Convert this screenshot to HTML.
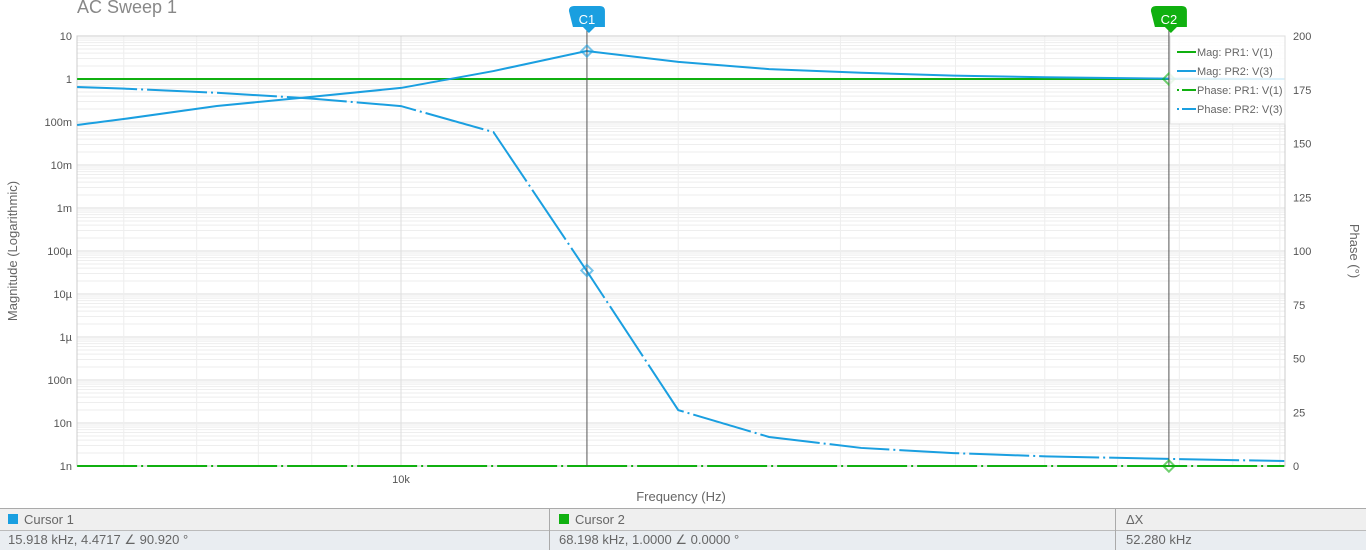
<!DOCTYPE html>
<html><head><meta charset="utf-8"><style>
body{margin:0;width:1366px;height:549px;background:#fff;font-family:"Liberation Sans",sans-serif;overflow:hidden;position:relative}
.t{position:absolute;font-size:13px;color:#666}
</style></head><body>
<div class="t" style="left:77px;top:-3px;font-size:18px;color:#888">AC Sweep 1</div>
<svg id="chart" width="1366" height="508" style="position:absolute;left:0;top:0" font-family="Liberation Sans, sans-serif"></svg>
<div style="position:absolute;left:0;top:508px;width:1366px;height:41px;border-top:1px solid #aaa">
 <div style="position:absolute;left:0;top:0;width:1366px;height:21px;background:#efefef;border-bottom:1px solid #bbb"></div>
 <div style="position:absolute;left:0;top:22px;width:1366px;height:19px;background:#e9edf1"></div>
 <div style="position:absolute;left:549px;top:0;width:1px;height:41px;background:#aaa"></div>
 <div style="position:absolute;left:1115px;top:0;width:1px;height:41px;background:#aaa"></div>
 <div class="t" style="left:8px;top:3px"><span style="display:inline-block;width:10px;height:10px;background:#1a9fe0;margin-right:6px"></span>Cursor 1</div>
 <div class="t" style="left:559px;top:3px"><span style="display:inline-block;width:10px;height:10px;background:#10b010;margin-right:6px"></span>Cursor 2</div>
 <div class="t" style="left:1126px;top:3px">ΔX</div>
 <div class="t" style="left:8px;top:23px">15.918 kHz, 4.4717 ∠ 90.920 °</div>
 <div class="t" style="left:559px;top:23px">68.198 kHz, 1.0000 ∠ 0.0000 °</div>
 <div class="t" style="left:1126px;top:23px">52.280 kHz</div>
</div>
<script>
const freqs=[4.45,5.01,6.31,7.94,10,12.6,15.9,20,25.1,31.6,39.8,50.1,68.2,91];
const magPR2=[0.085,0.118,0.235,0.38,0.62,1.53,4.47,2.5,1.7,1.4,1.2,1.1,1.02,1.0];
const phasePR2=[176.3,175.5,173.6,171,167.4,155.3,90.9,26,13.5,8.4,6,4.5,3.3,2.3];
const magPR1=[1,1,1,1,1,1,1,1,1,1,1,1,1,1];
const phasePR1=[0,0,0,0,0,0,0,0,0,0,0,0,0,0];
const magTicks=["10","1","100m","10m","1m","100µ","10µ","1µ","100n","10n","1n"];
const phaseTicks=[0,25,50,75,100,125,150,175,200];
const cursors=[{f:15.918,m:4.4717,p:90.92,c:"#1a9fe0",l:"C1"},{f:68.198,m:1.0,p:0,c:"#10b010",l:"C2"}];
const L=77,R=1285,T=36,B=466,NS="http://www.w3.org/2000/svg";
const X=f=>401+(Math.log10(f)-1)*921;
const YM=m=>79-Math.log10(m)*43;
const YP=p=>B-p/200*(B-T);
const svg=document.getElementById('chart');
function el(t,a,txt){const e=document.createElementNS(NS,t);for(const k in a)e.setAttribute(k,a[k]);if(txt!=null)e.textContent=txt;svg.appendChild(e);return e;}
// grid
for(let d=0;d<10;d++)for(let k=2;k<10;k++){const y=YM(Math.pow(10,1-d-1)*k);const g=el('line',{x1:L,x2:R,y1:y,y2:y,stroke:'#eee'});}
for(let i=0;i<magTicks.length;i++){const y=T+i*43;const g=el('line',{x1:L,x2:R,y1:y,y2:y,stroke:'#ddd'});
 const t=el('text',{x:72,y:y+4,'text-anchor':'end','font-size':11,fill:'#555'},magTicks[i]);}
for(const f of [5,6,7,8,9,10,20,30,40,50,60,70,80,90]){const x=X(f);const g=el('line',{x1:x,x2:x,y1:T,y2:B,stroke:f==10?'#ddd':'#eee'});}
for(const p of phaseTicks){const t=el('text',{x:1293,y:YP(p)+4,'font-size':11,fill:'#555'},String(p));}
const b=el('rect',{x:L,y:T,width:R-L,height:B-T,fill:'none',stroke:'#ccc'});
let t=el('text',{x:X(10),y:483,'text-anchor':'middle','font-size':11,fill:'#555'},'10k');
t=el('text',{x:681,y:501,'text-anchor':'middle','font-size':13,fill:'#666'},'Frequency (Hz)');
t=el('text',{x:17,y:251,'text-anchor':'middle','font-size':13,fill:'#666',transform:'rotate(-90 17 251)'},'Magnitude (Logarithmic)');
t=el('text',{x:1350,y:251,'text-anchor':'middle','font-size':13,fill:'#666',transform:'rotate(90 1350 251)'},'Phase (°)');
function line(vals,yf,c,dash,name){const pts=freqs.map((f,i)=>X(f)+','+yf(vals[i])).join(' ');const p=el('polyline',{points:pts,fill:'none',stroke:c,'stroke-width':2,'stroke-dasharray':dash||'none'});}
line(phasePR1,YP,'#10b010','60 4 2 4','phase-pr1-line');
line(phasePR2,YP,'#1a9fe0','60 4 2 4','phase-pr2-line');
line(magPR1,YM,'#10b010',null,'mag-pr1-line');
line(magPR2,YM,'#1a9fe0',null,'mag-pr2-line');
for(const c of cursors){const x=X(c.f);
 const l=el('line',{x1:x,x2:x,y1:28,y2:B,stroke:'#555'});
 const f=el('path',{d:`M${x-18},11 q0,-5 5,-5 h26 q5,0 5,5 v16 h-10 l-6,6 l-6,-6 h-10 z`,fill:c.c});
 const tt=el('text',{x:x,y:24,'text-anchor':'middle','font-size':13,fill:'#fff'},c.l);
 for(const y of [YM(c.m),YP(c.p)]){const d=el('rect',{x:x-4,y:y-4,width:8,height:8,fill:'none',stroke:c.c,'stroke-opacity':0.6,'stroke-width':2,transform:`rotate(45 ${x} ${y})`});}}
// legend
const lg=el('rect',{x:1170,y:36,width:115,height:88,fill:'#fff','fill-opacity':0.85,stroke:'#ddd'});
[['Mag: PR1: V(1)','#10b010',null],['Mag: PR2: V(3)','#1a9fe0',null],['Phase: PR1: V(1)','#10b010','2 3 14 0'],['Phase: PR2: V(3)','#1a9fe0','2 3 14 0']].forEach((e,i)=>{const y=52+i*19;
 const s=el('line',{x1:1177,x2:1196,y1:y,y2:y,stroke:e[1],'stroke-width':2,'stroke-dasharray':e[2]||'none'});
 const tx=el('text',{x:1197,y:y+4,'font-size':11,fill:'#666'},e[0]);});
</script>
</body></html>
